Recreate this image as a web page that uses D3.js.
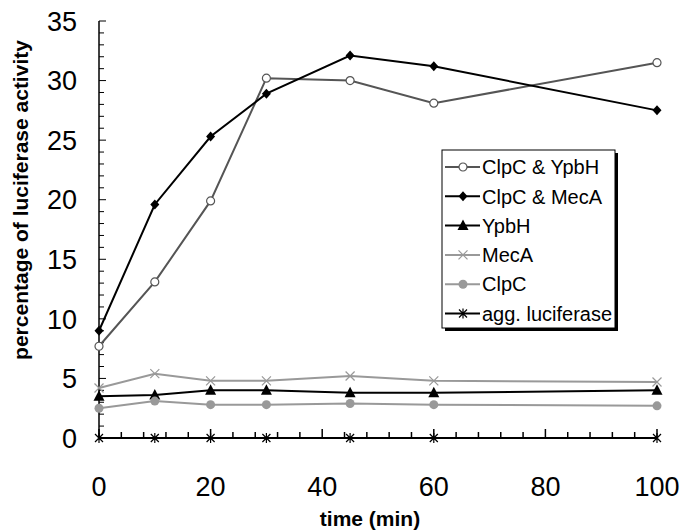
<!DOCTYPE html>
<html>
<head>
<meta charset="utf-8">
<script src="https://cdn.jsdelivr.net/npm/d3@7"></script>
<style>
  body { margin: 0; background: #fff; }
  svg { display: block; font-family: "Liberation Sans", Arial, sans-serif; }
</style>
</head>
<body>
<svg id="chart" width="680" height="530"></svg>
<script>
// data
const times = [0, 10, 20, 30, 45, 60, 100];
const clpcYpbh = [7.7, 13.1, 19.9, 30.2, 30.0, 28.1, 31.5];
const clpcMeca = [9.0, 19.6, 25.3, 28.9, 32.1, 31.2, 27.5];
const ypbh = [3.5, 3.6, 4.0, 4.0, 3.8, 3.8, 4.0];
const meca = [4.2, 5.4, 4.8, 4.8, 5.2, 4.8, 4.7];
const clpc = [2.5, 3.1, 2.8, 2.8, 2.9, 2.8, 2.7];
const aggLuc = [0, 0, 0, 0, 0, 0, 0];

const seriesNames = ['ClpC & YpbH', 'ClpC & MecA', 'YpbH', 'MecA', 'ClpC', 'agg. luciferase'];
const xTickLabels = [0, 20, 40, 60, 80, 100];
const yTickLabels = [0, 5, 10, 15, 20, 25, 30, 35];

const series = [
  { name: seriesNames[0], values: clpcYpbh, color: '#555', marker: 'circle' },
  { name: seriesNames[1], values: clpcMeca, color: '#000', marker: 'diamond' },
  { name: seriesNames[2], values: ypbh, color: '#000', marker: 'triangle' },
  { name: seriesNames[3], values: meca, color: '#999', marker: 'cross' },
  { name: seriesNames[4], values: clpc, color: '#999', marker: 'dot' },
  { name: seriesNames[5], values: aggLuc, color: '#000', marker: 'star' }
];

const margin = { top: 21, right: 23, bottom: 92, left: 99 };
const width = 680 - margin.left - margin.right;
const height = 530 - margin.top - margin.bottom;

const svg = d3.select('#chart');
const g = svg.append('g').attr('transform', `translate(${margin.left},${margin.top})`);

const x = d3.scaleLinear().domain([0, 100]).range([0, width]);
const y = d3.scaleLinear().domain([0, 35]).range([height, 0]);

// minor + major ticks on y (inside)
const yAxis = g.append('g');
yAxis.selectAll('line.tick')
  .data(d3.range(0, 36))
  .enter().append('line')
  .attr('x1', 0)
  .attr('x2', (d) => (d % 5 === 0 ? 7 : 5))
  .attr('y1', (d) => y(d))
  .attr('y2', (d) => y(d))
  .attr('stroke', '#000')
  .attr('stroke-width', 1);
yAxis.append('line')
  .attr('x1', 0).attr('x2', 0)
  .attr('y1', 0).attr('y2', height)
  .attr('stroke', '#000').attr('stroke-width', 1.5);
yAxis.selectAll('text')
  .data(yTickLabels)
  .enter().append('text')
  .attr('x', -22)
  .attr('y', (d) => y(d))
  .attr('dy', '0.36em')
  .attr('text-anchor', 'end')
  .attr('font-size', 27)
  .text((d) => d);

// x ticks every 4 min, pointing up
const xAxis = g.append('g');
xAxis.selectAll('line.tick')
  .data(d3.range(0, 101, 4))
  .enter().append('line')
  .attr('x1', (d) => x(d))
  .attr('x2', (d) => x(d))
  .attr('y1', height)
  .attr('y2', (d) => height - (d % 20 === 0 ? 9 : 6))
  .attr('stroke', '#000')
  .attr('stroke-width', 1.5);
xAxis.append('line')
  .attr('x1', 0).attr('x2', width)
  .attr('y1', height).attr('y2', height)
  .attr('stroke', '#000').attr('stroke-width', 2);
xAxis.selectAll('text')
  .data(xTickLabels)
  .enter().append('text')
  .attr('x', (d) => x(d))
  .attr('y', height + 58)
  .attr('text-anchor', 'middle')
  .attr('font-size', 27)
  .text((d) => d);

// axis titles
svg.append('text')
  .attr('x', 370)
  .attr('y', 526)
  .attr('text-anchor', 'middle')
  .attr('font-size', 21)
  .attr('font-weight', 'bold')
  .text('time (min)');
svg.append('text')
  .attr('transform', 'translate(28,200) rotate(-90)')
  .attr('text-anchor', 'middle')
  .attr('font-size', 21)
  .attr('font-weight', 'bold')
  .text('percentage of luciferase activity');

function drawMarker(sel, type, color) {
  if (type === 'circle') {
    sel.append('circle').attr('r', 4).attr('fill', '#fff').attr('stroke', color).attr('stroke-width', 1.2);
  } else if (type === 'dot') {
    sel.append('circle').attr('r', 4.5).attr('fill', color);
  } else if (type === 'diamond') {
    sel.append('path').attr('d', 'M0,-5L4.5,0L0,5L-4.5,0Z').attr('fill', color);
  } else if (type === 'triangle') {
    sel.append('path').attr('d', 'M0,-6L5.5,4.5L-5.5,4.5Z').attr('fill', color);
  } else if (type === 'cross') {
    sel.append('path').attr('d', 'M-4.5,-4.5L4.5,4.5M-4.5,4.5L4.5,-4.5').attr('stroke', color).attr('stroke-width', 1.2);
  } else if (type === 'star') {
    sel.append('path').attr('d', 'M-4,-4L4,4M-4,4L4,-4M0,-5L0,5').attr('stroke', color).attr('stroke-width', 1.2);
  }
}

const line = d3.line().x((d) => x(d[0])).y((d) => y(d[1]));

series.forEach((s) => {
  const pts = times.map((t, i) => [t, s.values[i]]);
  g.append('path')
    .datum(pts)
    .attr('d', line)
    .attr('fill', 'none')
    .attr('stroke', s.color)
    .attr('stroke-width', 2);
  g.selectAll(null)
    .data(pts)
    .enter().append('g')
    .attr('transform', (d) => `translate(${x(d[0])},${y(d[1])})`)
    .each(function () { drawMarker(d3.select(this), s.marker, s.color); });
});

// legend
const lg = svg.append('g').attr('transform', 'translate(442,150)');
lg.append('rect').attr('x', 3).attr('y', 3).attr('width', 173).attr('height', 178).attr('fill', '#000');
lg.append('rect').attr('x', 0).attr('y', 0).attr('width', 173).attr('height', 178)
  .attr('fill', '#fff').attr('stroke', '#000').attr('stroke-width', 1);
series.forEach((s, i) => {
  const row = lg.append('g').attr('transform', `translate(0,${17 + i * 29.3})`);
  row.append('line').attr('x1', 3).attr('x2', 38).attr('stroke', s.color).attr('stroke-width', 2);
  drawMarker(row.append('g').attr('transform', 'translate(21,0)'), s.marker, s.color);
  row.append('text').attr('x', 40).attr('dy', '0.36em').attr('font-size', 20).text(s.name);
});
</script>
</body>
</html>
